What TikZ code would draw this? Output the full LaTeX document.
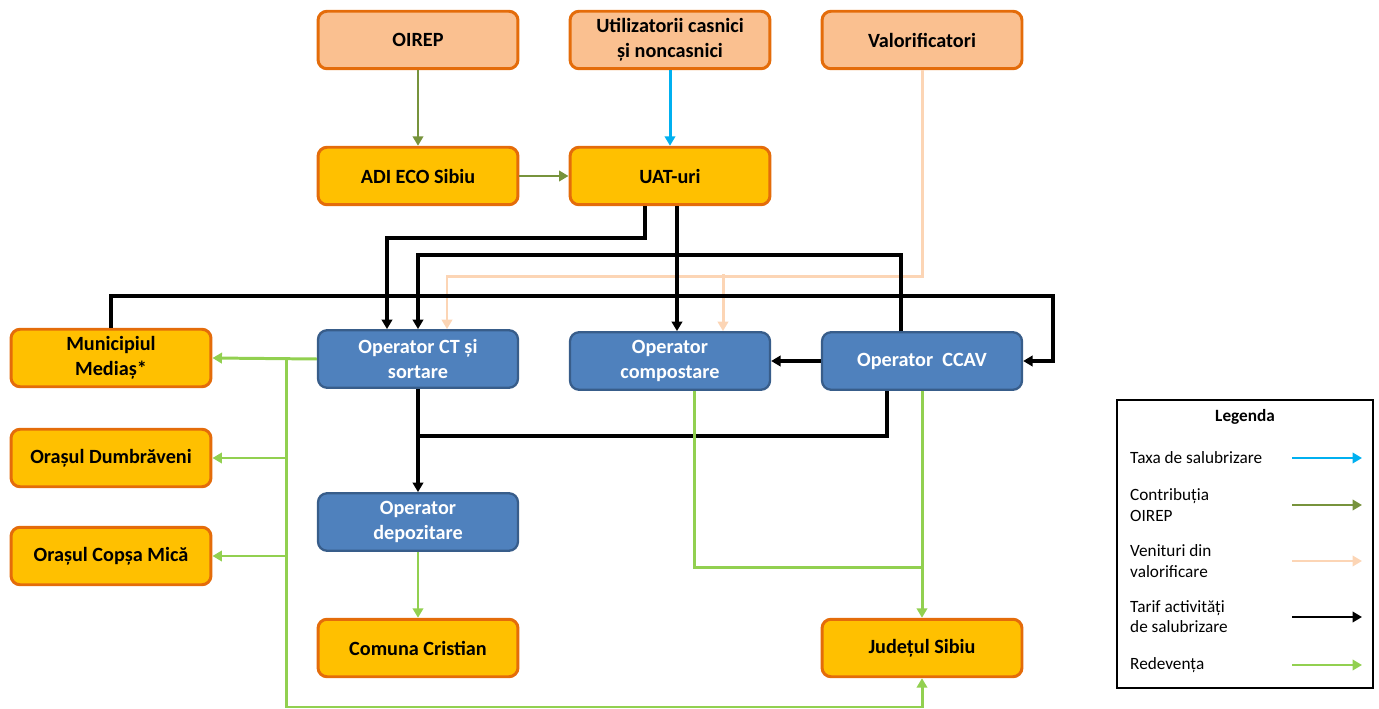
\documentclass[tikz,border=0pt]{standalone}
\usepackage{fontspec}
\setmainfont{Carlito}
\usepackage{tikz}
\usetikzlibrary{arrows.meta,calc}

\definecolor{boxorange}{HTML}{FFC000}
\definecolor{edgeorange}{HTML}{E46C0A}
\definecolor{peachfill}{HTML}{FAC090}
\definecolor{opblue}{HTML}{4F81BD}
\definecolor{opblueedge}{HTML}{385D8A}
\definecolor{taxblue}{HTML}{00B0F0}
\definecolor{oirepgreen}{HTML}{77933C}
\definecolor{peachline}{HTML}{FCD5B5}
\definecolor{redgreen}{HTML}{92D050}

\tikzset{
  anybox/.style={rounded corners=0.18cm, minimum width=4cm, minimum height=1.15cm,
    align=center, font=\fontsize{11.5}{14.5}\selectfont\bfseries, inner sep=2pt},
  srcbox/.style={anybox, fill=peachfill, draw=edgeorange, line width=1.7pt},
  uatbox/.style={anybox, fill=boxorange, draw=edgeorange, line width=1.7pt},
  opbox/.style={anybox, fill=opblue, draw=opblueedge, line width=1.3pt, text=white},
  tip/.style={-{Triangle[length=1.9mm,width=2.1mm]}},
  olive flow/.style={tip, draw=oirepgreen, line width=1.7pt},
  tax flow/.style={tip, draw=taxblue, line width=1.7pt},
  val flow/.style={tip, draw=peachline, line width=1.7pt},
  tarif line/.style={draw=black, line width=2pt},
  tarif flow/.style={tip, tarif line},
  red line/.style={draw=redgreen, line width=1.7pt},
  red flow/.style={tip, red line},
  legtext/.style={anchor=west, align=left, font=\fontsize{9.8}{11.5}\selectfont},
}

\begin{document}
\begin{tikzpicture}[x=0.02cm, y=-0.02cm]
  \useasboundingbox (0,0) rectangle (1379,709);

  % top row
  \node[srcbox] (oirep) at (418,40) {OIREP};
  \node[srcbox] (util) at (670,40) {Utilizatorii casnici\\și noncasnici};
  \node[srcbox] (valor) at (922,40) {Valorificatori};

  \node[uatbox] (adi) at (418,176) {ADI ECO Sibiu};
  \node[uatbox] (uat) at (670,176) {UAT-uri};

  % operators and beneficiaries
  \node[uatbox] (medias) at (111,358) {Municipiul\\Mediaș*};
  \node[opbox] (ctsort) at (418,359) {Operator CT și\\sortare};
  \node[opbox] (compost) at (670,361) {Operator\\compostare};
  \node[opbox] (ccav) at (922,361) {Operator~~CCAV};

  \node[uatbox] (dumbr) at (111,458) {Orașul Dumbrăveni};
  \node[uatbox] (copsa) at (111,556) {Orașul Copșa Mică};
  \node[opbox] (depoz) at (418,522) {Operator\\depozitare};

  \node[uatbox] (cristian) at (418,648) {Comuna Cristian};
  \node[uatbox] (judet) at (922,648) {Județul Sibiu};

  % contributia OIREP and taxa
  \draw[olive flow] (oirep) -- (adi);
  \draw[olive flow] (adi) -- (uat);
  \draw[tax flow] (util) -- (uat);

  % venituri din valorificare
  \draw[val flow] (valor.south) -- ++(0,206) -| ($(ctsort.north)+(29,0)$);
  \draw[val flow] ($(compost.north)+(53,-57)$) -- ($(compost.north)+(53,0)$);

  % tarif
  \draw[tarif flow] ($(uat.south)+(-25,0)$) -- ++(0,32) -| ($(ctsort.north)+(-31,0)$);
  \draw[tarif flow] ($(uat.south)+(7,0)$) -- ($(compost.north)+(7,0)$);
  \draw[tarif flow] ($(ccav.north)+(-21,0)$) -- ++(0,-76) -| (ctsort.north);
  \draw[tarif flow] (medias.north) -- ++(0,-32) -| ($(ccav.east)+(30,0)$) -- (ccav.east);
  \draw[tarif flow] (ccav) -- (compost);
  \draw[tarif flow] (ctsort) -- (depoz);
  \coordinate (junc) at ($(ctsort.south)+(0,47)$);
  \draw[tarif line] (junc) -| ($(ccav.south)+(-35,0)$);
  \draw[tarif line] ($(compost.south)+(-24,0)$) -- ($(compost.south)+(-24,0)$ |- junc);

  % redeventa
  \draw[red flow] (ctsort.west) -- (medias.east);
  \coordinate (gx) at ($(ctsort.west)+(-30,0)$);
  \draw[red flow] (gx) |- (dumbr.east);
  \draw[red flow] (gx) |- (copsa.east);
  \draw[red flow] (gx) -- ++(0,348) -| (judet.south);
  \draw[red flow] (depoz) -- (cristian);
  \draw[red flow] (ccav.south) -- (judet.north);
  \draw[red line] ($(compost.south)+(24,0)$) |- ($(ccav.south)+(0,177)$);

  % legend
  \node[draw=black, line width=0.9pt, minimum width=5.12cm, minimum height=5.76cm] (legend) at (1245,544) {};
  \node[font=\fontsize{9.8}{12}\selectfont\bfseries] (legtitle) at (1245,417) {Legenda};
  \foreach \i/\yy/\col/\txt in {1/458/taxblue/{Taxa de salubrizare},
      2/505/oirepgreen/{Contribuția\\OIREP},
      3/561/peachline/{Venituri din\\valorificare},
      4/617/black/{Tarif activități\\de salubrizare},
      5/665/redgreen/{Redevența}}{
    \node[legtext] (lg\i) at (1124,\yy) {\txt};
    \coordinate (la\i) at (1292,\yy);
    \coordinate (lb\i) at (1362,\yy);
    \draw[tip, draw=\col, line width=1.7pt] (la\i) -- (lb\i);
  }
\end{tikzpicture}
\end{document}
